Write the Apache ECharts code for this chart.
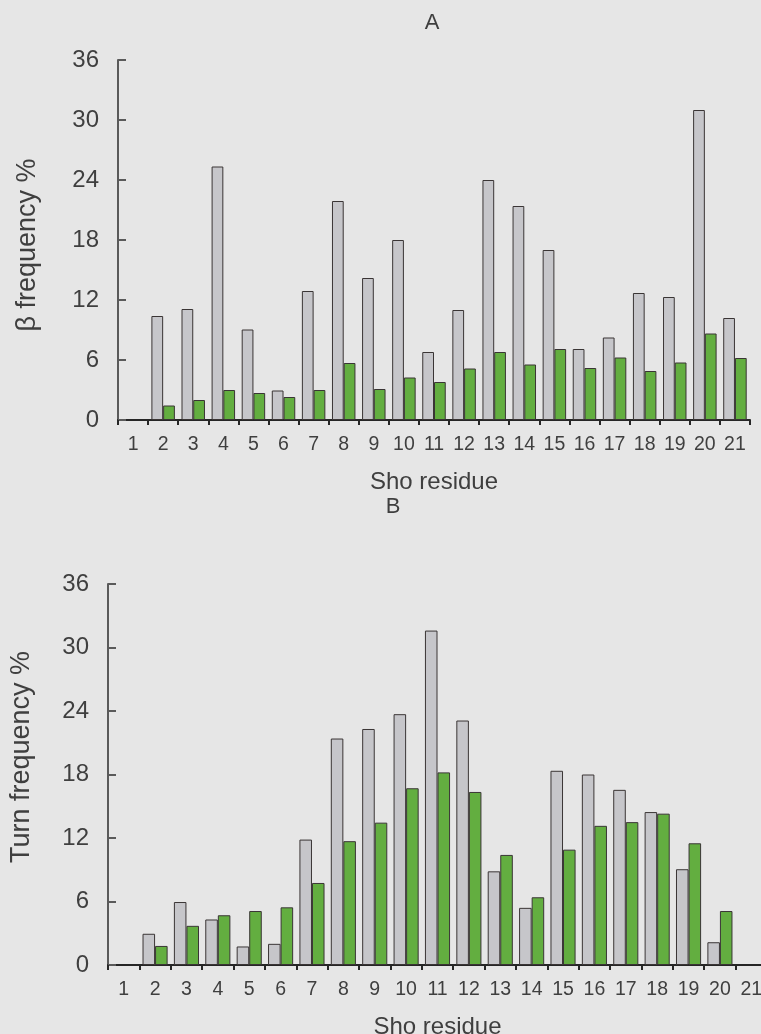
<!DOCTYPE html>
<html>
<head>
<meta charset="utf-8">
<script src="https://cdn.jsdelivr.net/npm/echarts@6/dist/echarts.min.js"></script>
<style>
  html, body { margin: 0; padding: 0; background: #e6e6e6; }
  #chart { width: 761px; height: 1034px; }
</style>
</head>
<body>
<div id="chart"></div>
<script>
// Sho residue positions 1..21
const categories = ['1','2','3','4','5','6','7','8','9','10','11','12','13','14','15','16','17','18','19','20','21'];

// Panel A: beta frequency (%)
const betaGrey  = [null, 10.4, 11.1, 25.35, 9.05, 2.95, 12.9, 21.9, 14.2, 18.0, 6.8, 11.0, 24.0, 21.4, 17.0, 7.1, 8.25, 12.7, 12.3, 31.0, 10.2];
const betaGreen = [null, 1.45, 2.0, 3.0, 2.7, 2.3, 3.0, 5.7, 3.1, 4.25, 3.8, 5.15, 6.8, 5.55, 7.1, 5.2, 6.25, 4.9, 5.75, 8.65, 6.2];

// Panel B: turn frequency (%)
const turnGrey  = [null, 2.95, 5.95, 4.3, 1.75, 2.0, 11.85, 21.4, 22.3, 23.7, 31.6, 23.1, 8.85, 5.4, 18.35, 18.0, 16.55, 14.45, 9.05, 2.15, null];
const turnGreen = [null, 1.8, 3.7, 4.7, 5.1, 5.45, 7.75, 11.7, 13.45, 16.7, 18.2, 16.35, 10.4, 6.4, 10.9, 13.15, 13.5, 14.3, 11.5, 5.1, null];

// y-axis ticks shared by both panels
const yTicks = [0, 6, 12, 18, 24, 30, 36];

const TEXT = '#3f3f3f';
const FONT = 'Liberation Sans, Arial, sans-serif';
const GREY_FILL = '#c6c6ca';
const GREEN_FILL = '#63ae40';
const EDGE = '#3a3535';

function xAxisFor(gridIndex) {
  return {
    type: 'category', gridIndex, data: categories, boundaryGap: true,
    name: 'Sho residue', nameLocation: 'middle', nameGap: 50,
    nameTextStyle: { color: TEXT, fontSize: 24, fontFamily: FONT },
    axisLine: { show: true, lineStyle: { color: '#262626', width: 2 } },
    axisTick: { show: true, inside: false, length: 5, lineStyle: { color: '#262626', width: 2 } },
    axisLabel: { interval: 0, margin: 15, color: TEXT, fontSize: 19.5, fontFamily: FONT, hideOverlap: false },
    splitLine: { show: false }
  };
}

function yAxisFor(gridIndex) {
  return {
    type: 'value', gridIndex, min: yTicks[0], max: yTicks[yTicks.length - 1], interval: yTicks[1] - yTicks[0],
    axisLine: { show: true, lineStyle: { color: '#5a5a5a', width: 2 } },
    axisTick: { show: true, inside: true, length: 8, lineStyle: { color: '#5a5a5a', width: 2 } },
    axisLabel: { margin: 19, color: TEXT, fontSize: 24, fontFamily: FONT },
    splitLine: { show: false }
  };
}

function barSeries(idx, data, fill, gap) {
  return {
    type: 'bar', xAxisIndex: idx, yAxisIndex: idx, data,
    barGap: '0%', barCategoryGap: gap,
    itemStyle: { color: fill, borderColor: EDGE, borderWidth: 1 },
    animation: false
  };
}

// rotated y-axis titles
function yTitle(text, x, y) {
  return {
    type: 'text', x, y, rotation: Math.PI / 2,
    style: { text, fill: TEXT, fontSize: 27, fontFamily: FONT, textAlign: 'center', textVerticalAlign: 'middle' }
  };
}

const chart = echarts.init(document.getElementById('chart'), null, { renderer: 'canvas' });
chart.setOption({
  backgroundColor: '#e6e6e6',
  animation: false,
  title: [
    { text: 'A', left: 427, top: 7, textAlign: 'center', textStyle: { color: TEXT, fontSize: 22, fontWeight: 'normal', fontFamily: FONT } },
    { text: 'B', left: 388, top: 491, textAlign: 'center', textStyle: { color: TEXT, fontSize: 22, fontWeight: 'normal', fontFamily: FONT } }
  ],
  grid: [
    { left: 118, width: 632, top: 60, height: 360, containLabel: false, outerBoundsMode: 'none' },
    { left: 108, width: 659, top: 584, height: 381, containLabel: false, outerBoundsMode: 'none' }
  ],
  xAxis: [xAxisFor(0), xAxisFor(1)],
  yAxis: [yAxisFor(0), yAxisFor(1)],
  graphic: [
    yTitle('β frequency %', 28, 245),
    yTitle('Turn frequency %', 22, 757)
  ],
  series: [
    barSeries(0, betaGrey, GREY_FILL, '22%'),
    barSeries(0, betaGreen, GREEN_FILL, '22%'),
    barSeries(1, turnGrey, GREY_FILL, '20%'),
    barSeries(1, turnGreen, GREEN_FILL, '20%')
  ]
});
</script>
</body>
</html>
